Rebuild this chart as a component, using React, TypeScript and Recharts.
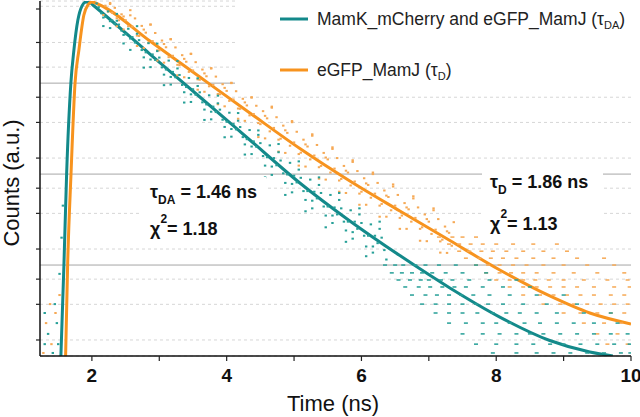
import React from 'react';
import { ComposedChart, Line, Scatter, XAxis, YAxis, CartesianGrid, ReferenceLine } from 'recharts';

// fitted decay curves, [time ns, counts]
const tealFit: [number, number][] = [
  [1.54, 1], [1.585, 10], [1.625, 100], [1.688, 1000], [1.733, 2310], [1.792, 4940], [1.852, 7040],
  [1.911, 7800], [1.97, 7700], [2.015, 7230], [2.861, 2090], [3.602, 704], [4.344, 237],
  [5.086, 79.8], [5.828, 30.5], [6.57, 12.7], [7.312, 5.6], [8.053, 2.68], [8.795, 1.48],
  [9.389, 1.106], [9.73, 1.0],
];
const orangeFit: [number, number][] = [
  [1.61, 1], [1.64, 10], [1.69, 100], [1.75, 1000], [1.807, 2310], [1.881, 5610], [1.941, 7230],
  [2.0, 7800], [2.119, 7230], [2.861, 2900], [3.602, 1167], [4.344, 470], [5.086, 191],
  [5.828, 84], [6.57, 39.3], [7.312, 18.6], [8.053, 8.82], [8.795, 4.57], [9.389, 2.97],
  [10.0, 2.25],
];

// measured photon counts, [time ns, counts]
const tealCloud: [number, number][] = [
  [2.1, 6840], [2.14, 5870], [2.17, 5260], [2.07, 7530], [2.2, 5360], [2.24, 6150], [2.27, 4800], [2.17, 4240],
  [2.3, 4890], [2.34, 4500], [2.37, 5770], [2.27, 4030], [2.4, 4410], [2.44, 3780], [2.47, 3390], [2.37, 4850],
  [2.5, 3450], [2.54, 3960], [2.57, 3090], [2.47, 2730], [2.6, 3210], [2.64, 2790], [2.67, 4230], [2.57, 2320],
  [2.7, 2970], [2.74, 2310], [2.77, 1920], [2.67, 3490], [2.8, 2180], [2.84, 2750], [2.87, 1820], [2.77, 1480],
  [2.9, 2070], [2.94, 1800], [2.97, 2720], [2.87, 1500], [3.0, 1910], [3.04, 1490], [3.07, 1240], [2.97, 2250],
  [3.1, 1410], [3.14, 1770], [3.17, 1170], [3.07, 950], [3.2, 1330], [3.24, 1160], [3.27, 1750], [3.17, 964],
  [3.3, 1230], [3.34, 955], [3.37, 794], [3.27, 1450], [3.4, 906], [3.44, 1140], [3.47, 753], [3.37, 612],
  [3.5, 857], [3.54, 746], [3.57, 1130], [3.47, 621], [3.6, 793], [3.64, 615], [3.67, 512], [3.57, 931],
  [3.7, 583], [3.74, 735], [3.77, 485], [3.67, 394], [3.8, 552], [3.84, 481], [3.87, 728], [3.77, 400],
  [3.9, 511], [3.94, 396], [3.97, 330], [3.87, 600], [4.0, 376], [4.04, 473], [4.07, 313], [3.97, 254],
  [4.1, 356], [4.14, 310], [4.17, 469], [4.07, 258], [4.2, 329], [4.24, 255], [4.27, 212], [4.17, 386],
  [4.3, 242], [4.34, 305], [4.37, 201], [4.27, 164], [4.4, 229], [4.44, 200], [4.47, 302], [4.37, 166],
  [4.5, 219], [4.54, 158], [4.57, 124], [4.47, 270], [4.6, 153], [4.64, 207], [4.67, 121], [4.57, 92],
  [4.7, 150], [4.74, 125], [4.77, 214], [4.67, 98], [4.8, 141], [4.84, 102], [4.87, 80], [4.77, 174],
  [4.9, 99], [4.94, 133], [4.97, 78], [4.87, 59], [5.0, 96], [5.04, 81], [5.07, 138], [4.97, 63],
  [5.1, 91], [5.14, 65], [5.17, 52], [5.07, 112], [5.2, 65], [5.24, 87], [5.27, 51], [5.17, 39],
  [5.3, 64], [5.34, 54], [5.37, 92], [5.27, 42], [5.4, 62], [5.44, 44], [5.47, 35], [5.37, 76],
  [5.5, 44], [5.54, 59], [5.57, 35], [5.47, 26], [5.6, 43], [5.64, 36], [5.67, 62], [5.57, 29],
  [5.7, 42], [5.74, 30], [5.77, 24], [5.67, 52], [5.8, 30], [5.84, 40], [5.87, 23], [5.77, 18],
  [5.9, 30], [5.94, 25], [5.97, 42], [5.87, 19.5], [6.0, 29], [6.04, 21], [6.07, 16], [5.97, 36],
  [6.1, 21], [6.14, 28], [6.17, 16], [6.07, 12.5], [6.2, 21], [6.24, 17.4], [6.27, 30], [6.17, 13.7],
  [6.3, 20], [6.34, 14.6], [6.37, 11.5], [6.27, 25],
  [1.3, 1.35], [1.35, 1.75], [1.42, 1.08], [1.48, 2.3], [1.3, 2.97], [1.45, 3.72], [1.5, 1.35],
  [1.52, 8], [1.55, 20], [1.57, 45],
];
// low counts sit on discrete rows: [counts, times...]
const tealRows: [number, number[]][] = [
  [10, [6.35, 6.5, 6.62, 6.8, 6.95, 7.15, 7.4, 7.7]],
  [8.2, [6.45, 6.6, 6.75, 6.9, 7.05, 7.25, 7.5, 7.85]],
  [6.85, [6.55, 6.72, 6.88, 7.0, 7.18, 7.35, 7.6, 7.9, 8.3]],
  [5.74, [6.65, 6.85, 7.02, 7.2, 7.38, 7.55, 7.8, 8.1, 8.5]],
  [4.68, [6.75, 6.95, 7.12, 7.3, 7.48, 7.66, 7.9, 8.2, 8.6, 9.0]],
  [3.72, [6.9, 7.1, 7.3, 7.5, 7.7, 7.88, 8.1, 8.4, 8.75, 9.2]],
  [2.97, [7.1, 7.3, 7.5, 7.72, 7.95, 8.15, 8.35, 8.6, 8.9, 9.3, 9.7]],
  [2.3, [7.3, 7.55, 7.8, 8.0, 8.2, 8.42, 8.65, 8.9, 9.15, 9.45, 9.8]],
  [1.75, [7.5, 7.8, 8.05, 8.3, 8.5, 8.7, 8.95, 9.2, 9.45, 9.7, 9.95]],
  [1.35, [7.7, 8.0, 8.3, 8.55, 8.8, 9.0, 9.25, 9.5, 9.75, 9.98]],
  [1.08, [7.95, 8.3, 8.6, 8.85, 9.1, 9.35, 9.6, 9.85, 9.99]],
];

const orangeCloud: [number, number][] = [
  [2.2, 7110], [2.24, 6110], [2.27, 7410], [2.17, 5620], [2.3, 5940], [2.34, 6730], [2.37, 5180], [2.27, 7620],
  [2.4, 4910], [2.44, 5710], [2.47, 5410], [2.37, 4220], [2.5, 4920], [2.54, 4230], [2.57, 5570], [2.47, 3890],
  [2.6, 4190], [2.64, 5150], [2.67, 3330], [2.57, 6340], [2.7, 3300], [2.74, 4260], [2.77, 3880], [2.67, 2560],
  [2.8, 3590], [2.84, 2790], [2.87, 4420], [2.77, 2430], [2.9, 2900], [2.94, 3560], [2.97, 2300], [2.87, 4390],
  [3.0, 2290], [3.04, 2940], [3.07, 2690], [2.97, 1770], [3.1, 2480], [3.14, 1930], [3.17, 3050], [3.07, 1680],
  [3.2, 2000], [3.24, 2470], [3.27, 1590], [3.17, 3030], [3.3, 1580], [3.34, 2030], [3.37, 1850], [3.27, 1220],
  [3.4, 1720], [3.44, 1330], [3.47, 2110], [3.37, 1160], [3.5, 1380], [3.54, 1700], [3.57, 1100], [3.47, 2090],
  [3.6, 1090], [3.64, 1410], [3.67, 1280], [3.57, 847], [3.7, 1190], [3.74, 923], [3.77, 1460], [3.67, 804],
  [3.8, 957], [3.84, 1180], [3.87, 760], [3.77, 1450], [3.9, 755], [3.94, 973], [3.97, 887], [3.87, 586],
  [4.0, 822], [4.04, 638], [4.07, 1010], [3.97, 556], [4.1, 662], [4.14, 815], [4.17, 526], [4.07, 1000],
  [4.2, 522], [4.24, 673], [4.27, 614], [4.17, 406], [4.3, 569], [4.34, 442], [4.37, 700], [4.27, 385],
  [4.4, 458], [4.44, 564], [4.47, 364], [4.37, 693], [4.5, 354], [4.54, 492], [4.57, 437], [4.47, 255],
  [4.6, 410], [4.64, 295], [4.67, 537], [4.57, 247], [4.7, 322], [4.74, 422], [4.77, 239], [4.67, 552],
  [4.8, 245], [4.84, 341], [4.87, 303], [4.77, 177], [4.9, 284], [4.94, 205], [4.97, 372], [4.87, 171],
  [5.0, 223], [5.04, 292], [5.07, 166], [4.97, 383], [5.1, 172], [5.14, 239], [5.17, 212], [5.07, 124],
  [5.2, 201], [5.24, 145], [5.27, 264], [5.17, 121], [5.3, 160], [5.34, 209], [5.37, 119], [5.27, 274],
  [5.4, 123], [5.44, 171], [5.47, 152], [5.37, 89], [5.5, 145], [5.54, 104], [5.57, 189], [5.47, 87],
  [5.6, 115], [5.64, 150], [5.67, 85], [5.57, 197], [5.7, 88.5], [5.74, 123], [5.77, 109], [5.67, 64],
  [5.8, 104], [5.84, 75], [5.87, 136], [5.77, 62], [5.9, 83], [5.94, 108], [5.97, 61], [5.87, 142],
  [6.0, 64], [6.04, 90], [6.07, 79], [5.97, 46], [6.1, 76], [6.14, 55], [6.17, 100], [6.07, 46],
  [6.2, 61], [6.24, 80], [6.27, 45], [6.17, 104], [6.3, 47], [6.34, 66], [6.37, 58], [6.27, 34],
  [6.4, 56], [6.44, 40], [6.47, 73], [6.37, 34], [6.5, 45], [6.54, 59], [6.57, 33], [6.47, 77],
  [6.6, 35], [6.64, 48], [6.67, 43], [6.57, 25], [6.7, 41], [6.74, 30], [6.77, 54], [6.67, 25],
  [6.8, 33], [6.84, 43], [6.87, 25], [6.77, 57], [6.9, 26], [6.94, 36], [6.97, 32], [6.87, 18.5],
  [7.0, 30], [7.04, 22], [7.07, 40], [6.97, 18.3], [7.1, 24.5], [7.14, 32], [7.17, 18.2], [7.07, 42],
  [7.2, 19], [7.24, 26.5], [7.27, 23.5], [7.17, 13.7], [7.3, 22.6], [7.34, 16.3], [7.37, 29.6], [7.27, 13.6],
  [1.32, 2.3], [1.4, 1.35], [1.46, 2.97], [1.28, 1.08], [1.52, 4.68], [1.38, 3.72],
];
const orangeRows: [number, number[]][] = [
  [20.3, [7.15, 7.35, 7.5, 7.7, 7.9, 8.15, 8.45]],
  [17, [7.3, 7.45, 7.62, 7.8, 8.0, 8.25, 8.55, 8.9]],
  [14.2, [7.45, 7.6, 7.78, 7.95, 8.15, 8.4, 8.7, 9.05]],
  [11.9, [7.55, 7.75, 7.92, 8.1, 8.3, 8.55, 8.85, 9.2, 9.6]],
  [10, [7.7, 7.88, 8.05, 8.25, 8.45, 8.7, 9.0, 9.35, 9.75]],
  [8.2, [7.85, 8.05, 8.22, 8.4, 8.6, 8.85, 9.15, 9.5, 9.9]],
  [6.85, [8.0, 8.2, 8.4, 8.58, 8.78, 9.0, 9.3, 9.65, 9.95]],
  [5.74, [8.2, 8.4, 8.6, 8.8, 9.0, 9.2, 9.45, 9.75, 9.98]],
  [4.68, [8.4, 8.65, 8.85, 9.05, 9.25, 9.45, 9.7, 9.9]],
  [3.72, [8.7, 8.95, 9.15, 9.35, 9.55, 9.75, 9.95]],
  [2.97, [9.0, 9.25, 9.5, 9.7, 9.9]],
  [2.3, [9.3, 9.6, 9.85]],
  [1.75, [9.5, 9.8]],
  [1.35, [9.65, 9.95]],
];

const xTicks = [2, 3, 4, 5, 6, 7, 8, 9, 10];
const yMajor = [1, 10, 100, 1000];
const yMinorSteps = [1.5, 2.1, 2.8, 3.7, 4.6, 5.7, 7];

const TEAL = '#13898a';
const ORANGE = '#f7931e';
const TEAL_DOT = '#27a098';
const ORANGE_DOT = '#f6a955';

const toPts = (pairs: [number, number][]) => pairs.map(([t, c]) => ({ t, c }));
const fromRows = (rows: [number, number[]][]) => rows.flatMap(([c, ts]) => ts.map(t => ({ t, c, row: true })));

const tealDots = [...toPts(tealCloud), ...fromRows(tealRows)];
const orangeDots = [...toPts(orangeCloud), ...fromRows(orangeRows)];

const yTicks = yMajor.flatMap(m => [m, ...yMinorSteps.map(s => +(s * m).toPrecision(3))]).filter(v => v <= 8000);

const font = "'Liberation Sans', Arial, sans-serif";

const YTick = (props: any) => {
  const { x, y, payload } = props;
  const major = yMajor.includes(payload.value);
  return <line x1={x} x2={x - (major ? 7 : 4)} y1={y} y2={y} stroke="#222" strokeWidth={1.2} />;
};

const XTick = (props: any) => {
  const { x, y, payload } = props;
  const labelled = payload.value % 2 === 0;
  return (
    <g>
      <line x1={x} x2={x} y1={y} y2={y + 5} stroke="#222" strokeWidth={1.2} />
      {labelled && (
        <text x={x} y={y + 26} textAnchor="middle" fontSize={19} fontWeight="bold" fill="#111" fontFamily={font}>
          {payload.value}
        </text>
      )}
    </g>
  );
};

// cloud points are small squares, the low-count rows short dashes
const dotShape = (color: string) => (p: any) => {
  const w = p.payload && p.payload.row ? 4 : 2.4;
  const h = p.payload && p.payload.row ? 1.5 : 2;
  return <rect x={p.cx - w / 2} y={p.cy - h / 2} width={w} height={h} fill={color} />;
};

export default function App() {
  return (
    <div style={{ position: 'absolute', left: 0, top: 0, width: 640, height: 417, background: '#fff', overflow: 'hidden' }}>
      <ComposedChart width={640} height={417} margin={{ top: 1, right: 9, left: 0, bottom: 0 }}>
        <CartesianGrid vertical={false} stroke="#d6d6d6" strokeDasharray="3 3" />
        <XAxis dataKey="t" type="number" domain={[1.23, 10]} ticks={xTicks} allowDataOverflow
          height={61} tick={XTick} tickLine={false} tickSize={0} tickMargin={0}
          axisLine={{ stroke: '#111', strokeWidth: 1.5 }} />
        <YAxis type="number" scale="log" domain={[1, 8000]} ticks={yTicks} allowDataOverflow
          width={40} tick={YTick} tickLine={false} tickSize={0} tickMargin={0}
          axisLine={{ stroke: '#111', strokeWidth: 1.5 }} />
        {[10, 100, 1000].map(v => (
          <ReferenceLine key={v} y={v} stroke="#a6a6a6" strokeWidth={1} />
        ))}
        <Scatter data={orangeDots} dataKey="c" shape={dotShape(ORANGE_DOT)} isAnimationActive={false} />
        <Scatter data={tealDots} dataKey="c" shape={dotShape(TEAL_DOT)} isAnimationActive={false} />
        <Line data={toPts(tealFit)} dataKey="c" type="monotone" stroke={TEAL} strokeWidth={3}
          dot={false} isAnimationActive={false} />
        <Line data={toPts(orangeFit)} dataKey="c" type="monotone" stroke={ORANGE} strokeWidth={3}
          dot={false} isAnimationActive={false} />
      </ComposedChart>

      <svg width={640} height={417} style={{ position: 'absolute', left: 0, top: 0, pointerEvents: 'none' }}>
        <text x={19} y={183} transform="rotate(-90 19 183)" textAnchor="middle" fontSize={22}
          fontFamily={font} fill="#111">Counts (a.u.)</text>
        <text x={333} y={411} textAnchor="middle" fontSize={22} fontFamily={font} fill="#111">Time (ns)</text>

        {/* legend */}
        <rect x={235} y={0} width={405} height={86} fill="#fff" />
        <line x1={280} x2={308} y1={19} y2={19} stroke={TEAL} strokeWidth={3} />
        <text x={317} y={25} fontSize={17.5} fontFamily={font} fill="#222">
          MamK_mCherry and eGFP_MamJ (τ<tspan fontSize={11} dy={4}>DA</tspan><tspan dy={-4}>)</tspan>
        </text>
        <line x1={280} x2={308} y1={70} y2={70} stroke={ORANGE} strokeWidth={3} />
        <text x={317} y={76} fontSize={17.5} fontFamily={font} fill="#222">
          eGFP_MamJ (τ<tspan fontSize={11} dy={4}>D</tspan><tspan dy={-4}>)</tspan>
        </text>

        {/* fit results */}
        <rect x={140} y={177} width={126} height={68} fill="#fff" />
        <text x={150} y={198} fontSize={18} fontWeight="bold" fontFamily={font} fill="#111">
          τ<tspan fontSize={12} dy={6}>DA</tspan><tspan dy={-6}> = 1.46 ns</tspan>
        </text>
        <text x={150} y={235} fontSize={18} fontWeight="bold" fontFamily={font} fill="#111">
          χ<tspan fontSize={12} dy={-12}>2</tspan><tspan dy={12}>= 1.18</tspan>
        </text>

        <rect x={482} y={166} width={121} height={74} fill="#fff" />
        <text x={490} y={188} fontSize={18} fontWeight="bold" fontFamily={font} fill="#111">
          τ<tspan fontSize={12} dy={6}>D</tspan><tspan dy={-6}> = 1.86 ns</tspan>
        </text>
        <text x={490} y={230} fontSize={18} fontWeight="bold" fontFamily={font} fill="#111">
          χ<tspan fontSize={12} dy={-12}>2</tspan><tspan dy={12}>= 1.13</tspan>
        </text>
      </svg>
    </div>
  );
}
